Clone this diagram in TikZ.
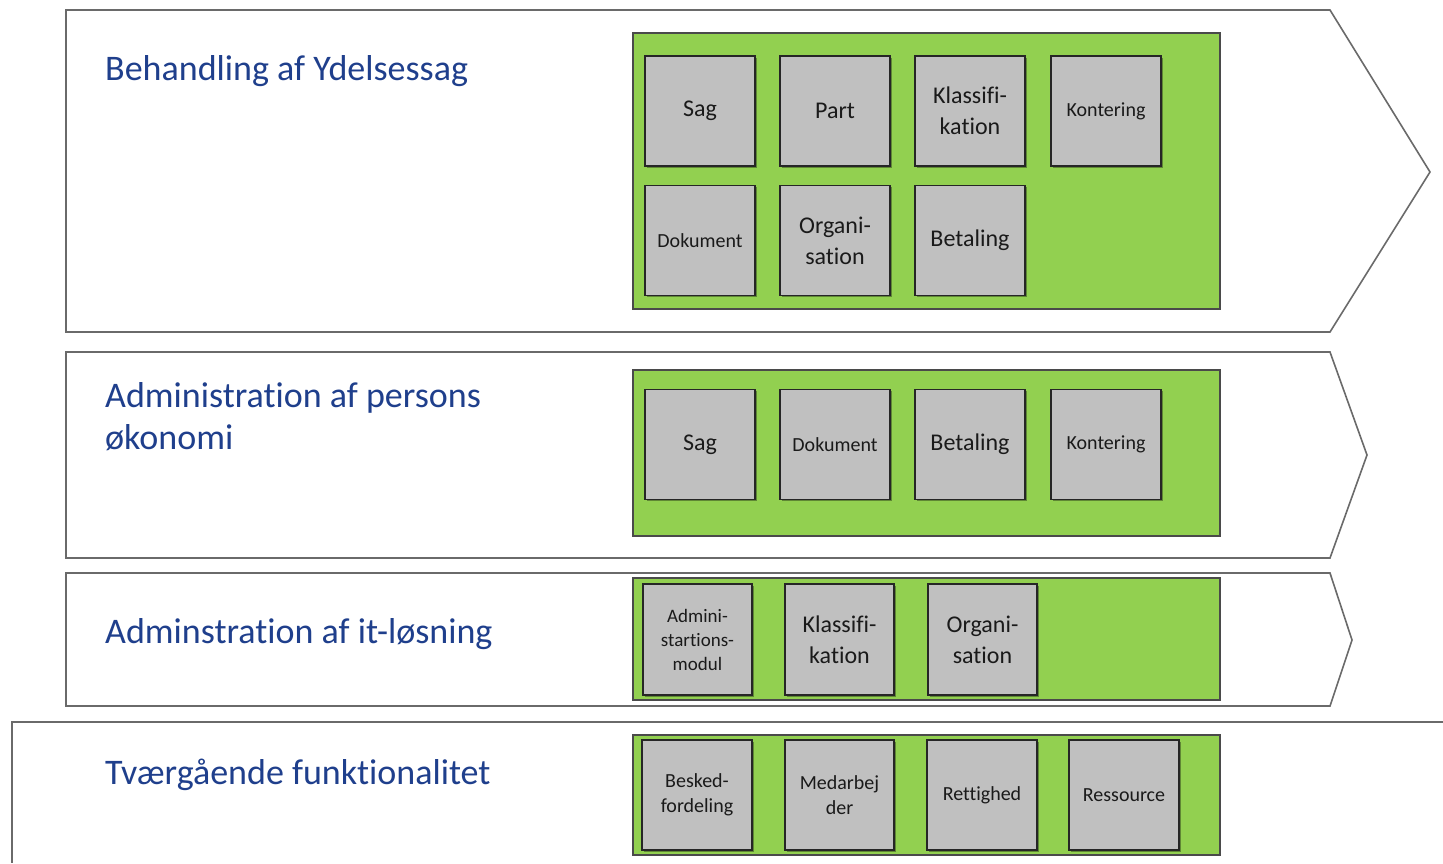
\documentclass[tikz,border=0pt]{standalone}
\usepackage{fontspec}
\setmainfont{Carlito}[Ligatures={NoCommon}]
\usetikzlibrary{shadows}
\definecolor{titleblue}{HTML}{1F3F8C}
\definecolor{bandline}{HTML}{6A6A6A}
\definecolor{greenfill}{HTML}{92D050}
\definecolor{greenline}{HTML}{4A4A4A}
\definecolor{cellfill}{HTML}{C0C0C0}
\definecolor{cellline}{HTML}{262626}
\definecolor{celltext}{HTML}{1A1A1A}
\tikzset{
  band/.style={draw=bandline, line width=1.6pt, fill=white, line join=miter},
  greenbox/.style={draw=greenline, line width=1.4pt, fill=greenfill},
  cell/.style={draw=cellline, line width=1.4pt, fill=cellfill, inner sep=0pt,
    minimum width=110pt, minimum height=110pt, align=center, text=celltext,
    drop shadow={shadow xshift=1.5pt, shadow yshift=-1.5pt, fill=black, opacity=0.35}},
  big/.style={font=\fontsize{24}{31}\selectfont},
  small/.style={font=\fontsize{20}{25}\selectfont},
  tiny/.style={font=\fontsize{19}{24}\selectfont},
  bandtitle/.style={anchor=base west, inner sep=0pt, text=titleblue,
    font=\fontsize{36}{42}\selectfont}
}
\begin{document}
\begin{tikzpicture}[x=1pt, y=-1pt]
\useasboundingbox (0,0) rectangle (1443,863);
% ---- band 1 ----
\draw[band] (66,10) -- (1330,10) -- (1430,172) -- (1330,332) -- (66,332) -- cycle;
\node[bandtitle] (t1) at (105,80) {Behandling af Ydelsessag};
\draw[greenbox] (633,33) rectangle (1220,309);
\node[cell, big]   (b1sag)  at (700,111)   {Sag};
\node[cell, big]   (b1part) at (835,111)   {Part};
\node[cell, big]   (b1kla)  at (970,111)   {Klassifi-\\kation};
\node[cell, small] (b1kon)  at (1106,111)  {Kontering};
\node[cell, small] (b1dok)  at (700,240.5) {Dokument};
\node[cell, big]   (b1org)  at (835,240.5) {Organi-\\sation};
\node[cell, big]   (b1bet)  at (970,240.5) {Betaling};
% ---- band 2 ----
\draw[band] (66,352) -- (1330,352) -- (1367,455) -- (1330,558) -- (66,558) -- cycle;
\node[bandtitle] (t2a) at (105,407) {Administration af persons};
\node[bandtitle] (t2b) at (105,449) {økonomi};
\draw[greenbox] (633,370) rectangle (1220,536);
\node[cell, big]   (b2sag) at (700,444.5)  {Sag};
\node[cell, small] (b2dok) at (835,444.5)  {Dokument};
\node[cell, big]   (b2bet) at (970,444.5)  {Betaling};
\node[cell, small] (b2kon) at (1106,444.5) {Kontering};
% ---- band 3 ----
\draw[band] (66,573) -- (1330,573) -- (1352,640) -- (1330,706) -- (66,706) -- cycle;
\node[bandtitle] (t3) at (105,643) {Adminstration af it-løsning};
\draw[greenbox] (633,578) rectangle (1220,700);
\node[cell, tiny, minimum width=109pt, minimum height=111pt] (b3adm) at (697.5,639.5) {Admini-\\startions-\\modul};
\node[cell, big,  minimum width=109pt, minimum height=111pt] (b3kla) at (839.5,639.5) {Klassifi-\\kation};
\node[cell, big,  minimum width=109pt, minimum height=111pt] (b3org) at (982.5,639.5) {Organi-\\sation};
% ---- band 4 ----
\draw[band] (1443,722) -- (12,722) -- (12,863);
\node[bandtitle] (t4) at (105,784) {Tværgående funktionalitet};
\draw[greenbox] (633,735) rectangle (1220,855);
\node[cell, small] (b4bes) at (697,795)    {Besked-\\fordeling};
\node[cell, small, minimum width=109pt] (b4med) at (839.5,795)  {Medarbej\\der};
\node[cell, small] (b4ret) at (982,795)    {Rettighed};
\node[cell, small] (b4res) at (1124,795)   {Ressource};
\end{tikzpicture}
\end{document}
